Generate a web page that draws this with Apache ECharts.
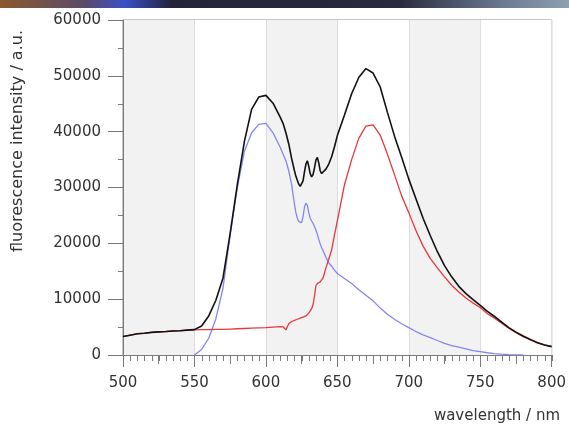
<!DOCTYPE html>
<html>
<head>
<meta charset="UTF-8">
<title>fluorescence</title>
<script src="https://cdn.jsdelivr.net/npm/echarts@6/dist/echarts.min.js"></script>
<style>
  html, body { margin: 0; padding: 0; background: #fff; }
  #chart { width: 569px; height: 428px; }
</style>
</head>
<body>
<div id="chart"></div>
<script>
// wavelength (nm)
var wavelength = [500,505,510,515,520,525,530,535,540,545,550,555,560,565,570,575,580,585,590,595,600,605,610,
  612,614,616,618,620,
  621,622,623,624,625,626,627,628,629,630,631,632,633,634,635,636,637,638,639,640,
  642,644,646,648,650,
  655,660,665,670,675,680,685,690,695,700,705,710,715,720,725,730,735,740,745,750,755,760,765,770,775,780,785,790,795,800];

// total spectrum (black)
var total = [3300,3550,3800,3900,4050,4150,4200,4300,4350,4450,4550,5200,7000,9800,13800,21800,30500,38300,44000,46200,46500,45100,42600,
  41500,39800,37800,35200,33000,
  32000,31300,30600,30200,30300,31200,32800,34200,34800,33800,32500,31900,32300,33500,34900,35400,34400,33000,32500,32600,
  33300,34200,35500,37300,39300,
  43000,46800,49700,51300,50500,48000,43500,39200,35400,31500,28000,24500,21400,18500,16000,14000,12300,11000,9900,8900,7800,6900,5900,4900,4100,3400,2800,2200,1800,1500];

// red component
var red = [3300,3550,3800,3900,4050,4150,4200,4300,4350,4450,4500,4550,4550,4600,4600,4650,4700,4750,4800,4850,4900,5000,5100,
  5050,4500,5600,6000,6200,
  6300,6400,6500,6600,6700,6800,6900,7000,7200,7500,7800,8300,9000,10500,12400,12800,12900,13100,13300,13800,
  15600,17200,18800,21500,24000,
  30500,35000,38800,41000,41200,39400,36000,32300,28500,25500,22300,19500,17300,15600,14000,12500,11300,10200,9300,8500,7400,6600,5700,4800,4000,3300,2700,2200,1800,1500];

// blue component
var blue = [null,null,null,null,null,null,null,null,null,null,0,1000,3000,6500,12000,21500,30000,36500,39800,41300,41500,39800,37200,
  36000,34800,33000,30500,27000,
  25500,24500,23900,23600,23700,24800,26500,27200,26800,25500,24500,24000,23600,23000,22400,21600,20700,19900,19200,18700,
  17500,16500,15900,15200,14600,
  13700,12800,11700,10700,9700,8400,7300,6400,5600,4900,4200,3600,3100,2600,2100,1700,1400,1100,800,600,400,250,150,80,30,0,null,null,null,null];

// 5 nm minor tick positions along the x axis
var minorTicks = [500,505,510,515,520,525,530,535,540,545,550,555,560,565,570,575,580,585,590,595,
  600,605,610,615,620,625,630,635,640,645,650,655,660,665,670,675,680,685,690,695,
  700,705,710,715,720,725,730,735,740,745,750,755,760,765,770,775,780,785,790,795,800];

function pairs(ys) {
  var out = [];
  for (var i = 0; i < wavelength.length; i++) {
    if (ys[i] !== null) out.push([wavelength[i], ys[i]]);
  }
  return out;
}

var font = 'DejaVu Sans';
var axisGray = '#7a7a7a';

var chart = echarts.init(document.getElementById('chart'), null, { renderer: 'canvas' });
chart.setOption({
  animation: false,
  backgroundColor: '#fff',
  grid: {
    left: 123, right: 16, top: 20, bottom: 73,
    show: true, borderColor: '#8a8a8a', borderWidth: 1
  },
  xAxis: [{
    type: 'value', min: 500, max: 800, interval: 50,
    axisLine: { lineStyle: { color: axisGray, width: 1 } },
    axisTick: { length: 12, lineStyle: { color: axisGray } },
    axisLabel: { fontFamily: font, fontSize: 15, color: '#333', margin: 21 },
    splitLine: { show: true, lineStyle: { color: '#dddddd' } },
    splitArea: { show: true, areaStyle: { color: ['#f2f2f2', '#ffffff'] } }
  }, {
    type: 'value', min: 500, max: 800, interval: 25, position: 'bottom',
    axisLine: { show: false, onZero: false },
    axisTick: { length: 9, lineStyle: { color: axisGray } },
    axisLabel: { show: false },
    splitLine: { show: false }
  }],
  yAxis: {
    type: 'value', min: 0, max: 60000, interval: 10000,
    axisLine: { show: true, lineStyle: { color: axisGray, width: 1 } },
    axisTick: { show: true, length: 15, lineStyle: { color: axisGray } },
    minorTick: { show: true, splitNumber: 2, length: 5, lineStyle: { color: axisGray } },
    axisLabel: {
      fontFamily: font, fontSize: 15, color: '#333', margin: 22,
      formatter: function (v) { return String(v); }
    },
    splitLine: { show: true, lineStyle: { color: '#dddddd' } }
  },
  graphic: [
    {
      type: 'rect', left: 0, top: 0, silent: true,
      shape: { width: 569, height: 8 },
      style: {
        fill: new echarts.graphic.LinearGradient(0, 0, 1, 0, [
          { offset: 0, color: '#8a5a2e' },
          { offset: 0.15, color: '#5a4a6a' },
          { offset: 0.22, color: '#3a50c8' },
          { offset: 0.3, color: '#23233a' },
          { offset: 0.7, color: '#2a2a3e' },
          { offset: 0.88, color: '#6a7890' },
          { offset: 1, color: '#8fa0b2' }
        ])
      }
    },
    {
      type: 'text', x: 18, y: 141, rotation: Math.PI / 2, silent: true,
      style: {
        text: 'fluorescence intensity / a.u.', fontFamily: font, fontSize: 16,
        fill: '#333', align: 'center', verticalAlign: 'middle'
      }
    },
    {
      type: 'text', x: 560, y: 416, silent: true,
      style: {
        text: 'wavelength / nm', fontFamily: font, fontSize: 15,
        fill: '#333', align: 'right', verticalAlign: 'middle'
      }
    }
  ],
  series: [
    {
      // 5 nm minor ticks below the x axis, placed through the axis scale
      name: 'minor', type: 'custom', silent: true, clip: false,
      data: minorTicks.map(function (w) { return [w, 0]; }),
      renderItem: function (params, api) {
        var p = api.coord([api.value(0), 0]);
        var x = Math.round(p[0]) + 0.5;
        return {
          type: 'line',
          shape: { x1: x, y1: p[1], x2: x, y2: p[1] + 6 },
          style: { stroke: axisGray, lineWidth: 1 }
        };
      }
    },
    {
      name: 'blue', type: 'line', showSymbol: false, data: pairs(blue),
      lineStyle: { color: '#8585f0', width: 1.3 }
    },
    {
      name: 'red', type: 'line', showSymbol: false, data: pairs(red),
      lineStyle: { color: '#e8383c', width: 1.3 }
    },
    {
      name: 'total', type: 'line', showSymbol: false, data: pairs(total),
      lineStyle: { color: '#111111', width: 1.6 }
    }
  ]
});
</script>
</body>
</html>
